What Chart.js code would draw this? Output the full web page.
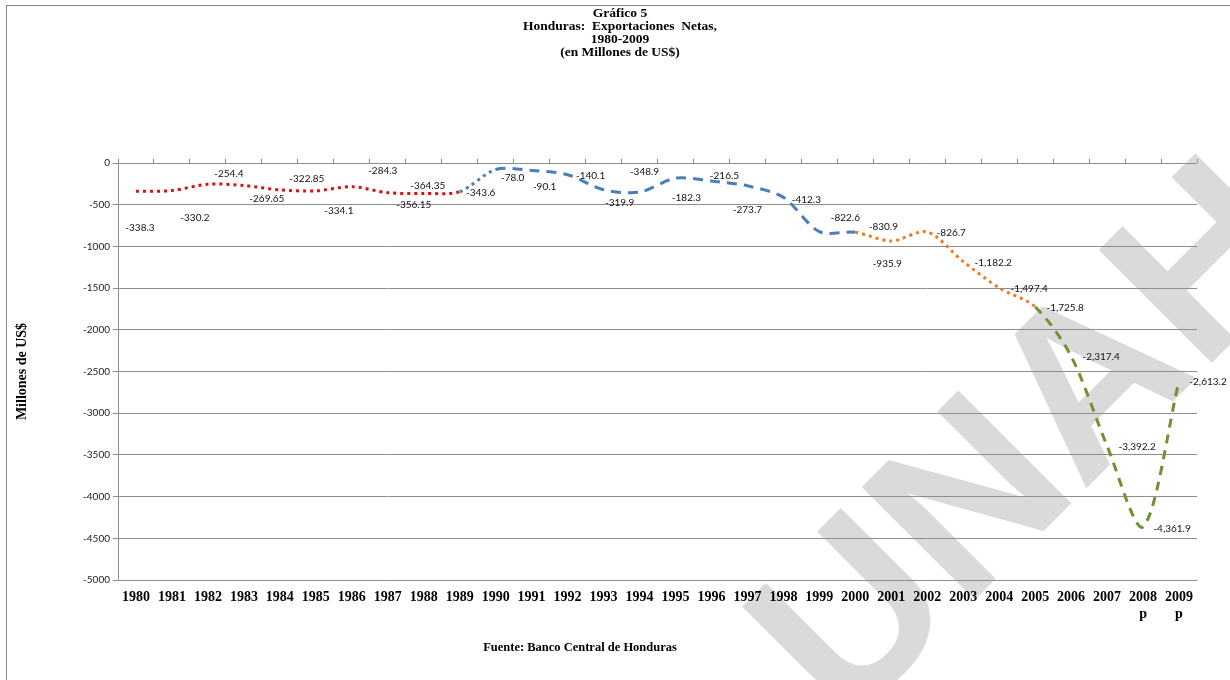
<!DOCTYPE html>
<html>
<head>
<meta charset="utf-8">
<script src="https://cdn.jsdelivr.net/npm/chart.js@4.4.1/dist/chart.umd.min.js"></script>
<style>
  html, body { margin: 0; padding: 0; background: #fff; }
  canvas { display: block; }
</style>
</head>
<body>
<canvas id="exports-chart" width="1230" height="680"></canvas>
<script>
const years = ['1980', '1981', '1982', '1983', '1984', '1985', '1986', '1987', '1988', '1989',
  '1990', '1991', '1992', '1993', '1994', '1995', '1996', '1997', '1998', '1999',
  '2000', '2001', '2002', '2003', '2004', '2005', '2006', '2007', '2008', '2009']
const preliminaryYears = ['2008', '2009']
const netExports = [-338.3, -330.2, -254.4, -269.65, -322.85, -334.1, -284.3, -356.15, -364.35, -343.6,
  -78.0, -90.1, -140.1, -319.9, -348.9, -182.3, -216.5, -273.7, -412.3, -822.6,
  -830.9, -935.9, -826.7, -1182.2, -1497.4, -1725.8, -2317.4, -3392.2, -4361.9, -2613.2]
const yTicks = [0, -500, -1000, -1500, -2000, -2500, -3000, -3500, -4000, -4500, -5000]
const titleLines = ['Gráfico 5', 'Honduras:  Exportaciones  Netas,', '1980-2009', '(en Millones de US$)']
const sourceNote = 'Fuente: Banco Central de Honduras'

// where each value label sits relative to its point (px, label centre)
const labelOffsets = [[4, 37], [23, 27], [21, -10], [23, 13], [27, -11], [23, 20], [31, -16], [26, 12], [4, -8], [21, 1],
  [17, 8], [13, 16], [23, 1], [16, 13], [5, -20], [11, 20], [13, -5], [0, 24], [23, 2], [26, -14],
  [28, -6], [-4, 23], [24, 1], [30, 1], [30, 1], [30, 1], [30, 1], [30, 1], [29, 2], [29, 1]]

const xLabels = years.map(y => preliminaryYears.includes(y) ? [y, 'p'] : y)

const formatValue = (i) => {
  const v = netExports[i]
  if (i < 10) return String(v)
  return v.toLocaleString('en-US', { minimumFractionDigits: 1, maximumFractionDigits: 1 })
}

// line styles per stretch of years
const segmentStyle = (i) => {
  if (i < 9) return { color: '#dd0f0f', dash: [3, 4] }
  if (i < 10) return { color: '#4a7ebb', dash: [3, 4] }
  if (i < 20) return { color: '#4a7ebb', dash: [10, 7] }
  if (i < 25) return { color: '#f0781e', dash: [3, 4] }
  return { color: '#6f9130', dash: [9, 7] }
}

const backdrop = {
  id: 'backdrop',
  beforeDraw(chart) {
    const ctx = chart.ctx
    ctx.save()
    ctx.strokeStyle = '#868686'
    ctx.lineWidth = 1
    ctx.strokeRect(6.5, 5.5, 1260, 700)
    ctx.translate(1037, 447)
    ctx.rotate(-Math.PI / 4)
    ctx.font = 'bold 232px "Liberation Sans"'
    ctx.fillStyle = '#dadada'
    ctx.textAlign = 'center'
    ctx.textBaseline = 'middle'
    ctx.fillText('UNAH', 0, 0)
    ctx.restore()
  }
}

const texts = {
  id: 'texts',
  afterDatasetsDraw(chart) {
    const ctx = chart.ctx
    const meta = chart.getDatasetMeta(0)
    ctx.save()
    ctx.font = '10px Lato'
    ctx.fillStyle = '#111'
    ctx.textAlign = 'center'
    ctx.textBaseline = 'middle'
    meta.data.forEach((pt, i) => {
      const [dx, dy] = labelOffsets[i]
      ctx.fillText(formatValue(i), pt.x + dx, pt.y + dy)
    })
    ctx.restore()
  },
  afterDraw(chart) {
    const ctx = chart.ctx
    ctx.save()
    ctx.fillStyle = '#000'
    ctx.textAlign = 'center'
    ctx.textBaseline = 'middle'
    ctx.font = 'bold 13.5px "Liberation Serif"'
    titleLines.forEach((line, i) => ctx.fillText(line, 620, 14 + i * 13))
    ctx.font = 'bold 12.5px "Liberation Serif"'
    ctx.fillText(sourceNote, 580, 648)
    ctx.restore()
  }
}

const chart = new Chart(document.getElementById('exports-chart'), {
  type: 'line',
  data: {
    labels: xLabels,
    datasets: [{
      label: 'Exportaciones Netas',
      data: netExports,
      borderColor: '#4a7ebb',
      borderWidth: 3,
      pointRadius: 0,
      tension: 0.3,
      fill: false,
      segment: {
        borderColor: c => segmentStyle(c.p0DataIndex).color,
        borderDash: c => segmentStyle(c.p0DataIndex).dash
      }
    }]
  },
  options: {
    responsive: false,
    devicePixelRatio: 1,
    animation: false,
    layout: { padding: { left: 8, right: 33, top: 159, bottom: 0 } },
    plugins: {
      legend: { display: false },
      tooltip: { enabled: false },
      title: { display: false }
    },
    scales: {
      x: {
        position: 'bottom',
        offset: true,
        grid: { display: false, drawTicks: false },
        border: { display: false },
        ticks: {
          autoSkip: false,
          maxRotation: 0,
          padding: 9,
          color: '#000',
          font: { family: '"Liberation Serif"', size: 14, weight: 'bold', lineHeight: 1.2 }
        },
        afterFit: s => { s.height = 100 }
      },
      xTop: {
        type: 'category',
        position: 'top',
        offset: true,
        grid: { offset: true, drawOnChartArea: false, drawTicks: true, tickLength: 4, color: '#8e8e8e' },
        border: { display: false },
        ticks: { display: false },
        afterFit: s => { s.height = 4 }
      },
      y: {
        min: -5000,
        max: 0,
        afterBuildTicks: s => { s.ticks = yTicks.map(v => ({ value: v })) },
        grid: { color: '#8e8e8e', tickLength: 5 },
        border: { color: '#8e8e8e' },
        ticks: {
          padding: 3,
          color: '#222',
          font: { family: 'Lato', size: 10 },
          callback: v => String(v)
        },
        title: {
          display: true,
          text: 'Millones de US$',
          color: '#000',
          font: { family: '"Liberation Serif"', size: 14, weight: 'bold', lineHeight: 1.2 },
          padding: { top: 6, bottom: 0 }
        },
        afterFit: s => { s.width = 110 }
      }
    }
  },
  plugins: [backdrop, texts]
})
</script>
</body>
</html>
